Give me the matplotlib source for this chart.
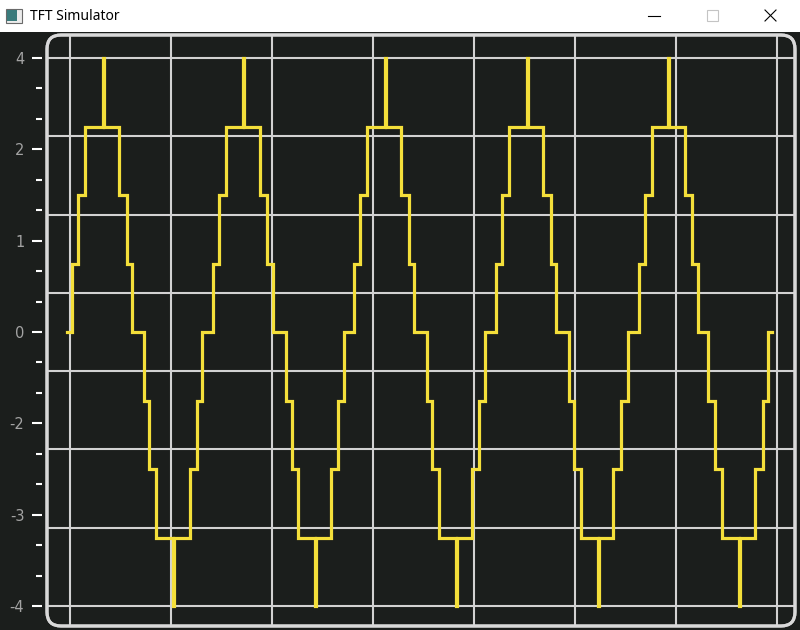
import numpy as np
import matplotlib
matplotlib.use("Agg")
import matplotlib.pyplot as plt
from matplotlib.patches import FancyBboxPatch, Rectangle

# ---- data: step waveform (sample index, level) ----
step_x = [0,
          5, 11, 18, 36, 37, 52, 60, 65, 77, 82, 89, 106, 107, 123, 130, 135,
          146, 152, 159, 176, 177, 193, 200, 206, 219, 225, 231, 248, 249, 264, 271, 277,
          287, 293, 300, 318, 319, 334, 342, 347, 360, 365, 372, 389, 390, 405, 412, 418,
          429, 435, 442, 460, 461, 476, 484, 489, 502, 507, 514, 531, 532, 546, 554, 561,
          572, 578, 585, 601, 602, 618, 625, 631, 641, 648, 655, 672, 673, 688, 696, 701,
          705]
step_y = [0,
          1, 2, 3, 4, 3, 2, 1, 0, -1, -2, -3, -4, -3, -2, -1, 0,
          1, 2, 3, 4, 3, 2, 1, 0, -1, -2, -3, -4, -3, -2, -1, 0,
          1, 2, 3, 4, 3, 2, 1, 0, -1, -2, -3, -4, -3, -2, -1, 0,
          1, 2, 3, 4, 3, 2, 1, 0, -1, -2, -3, -4, -3, -2, -1, 0,
          1, 2, 3, 4, 3, 2, 1, 0, -1, -2, -3, -4, -3, -2, -1, 0,
          0]
ytick_labels = ["4", "2", "1", "0", "-2", "-3", "-4"]
window_title = "TFT Simulator"

BG = "#1b1e1c"
GRID = "#d2d2d2"
BORDER = "#d9d9d9"
LINE = "#f4df3a"
LABEL = "#a3a3a3"

fig = plt.figure(figsize=(8, 6.3), dpi=100)
fig.patch.set_facecolor(BG)

# background / window chrome axes in pixel coordinates
bg = fig.add_axes([0, 0, 1, 1])
bg.set_xlim(0, 800)
bg.set_ylim(630, 0)
bg.axis("off")
bg.add_patch(Rectangle((0, 0), 800, 32, facecolor="white", edgecolor="none"))
# icon
bg.add_patch(Rectangle((5.5, 8.5), 16, 14, facecolor="#ececec", edgecolor="#6a6a6a", lw=0.8))
bg.add_patch(Rectangle((7, 10), 10, 11, facecolor="#3a7b7c", edgecolor="none"))
bg.text(30, 16, window_title, fontsize=10, family="Noto Sans", va="center", ha="left", color="black")
# window controls
bg.plot([648, 660], [16, 16], color="black", lw=0.8)
bg.add_patch(Rectangle((707, 10), 11, 11, facecolor="none", edgecolor="#c4c4c4", lw=0.8))
bg.plot([765, 776], [10, 21], color="black", lw=0.8)
bg.plot([765, 776], [21, 10], color="black", lw=0.8)

frame = FancyBboxPatch((47, 35), 748, 591, boxstyle="round,pad=0,rounding_size=14",
                       facecolor=BG, edgecolor=BORDER, lw=2.2, zorder=1)
bg.add_patch(frame)

# main chart axes
ax = fig.add_axes([70 / 800, 1 - 606 / 630, 707 / 800, 548 / 630])
ax.set_facecolor("none")
ax.set_xlim(3, 710)
ax.set_ylim(-4, 4)

for gx in np.linspace(3, 710, 8):
    l = ax.axvline(gx, ymin=-1, ymax=2, color=GRID, lw=1.5, zorder=1)
    l.set_clip_box(None)
    l.set_clip_path(frame)
for gy in np.linspace(-4, 4, 8):
    l = ax.axhline(gy, xmin=-1, xmax=2, color=GRID, lw=1.5, zorder=1)
    l.set_clip_box(None)
    l.set_clip_path(frame)

ln, = ax.plot(step_x, step_y, drawstyle="steps-post", color=LINE, lw=2.3, zorder=3,
              solid_joinstyle="miter")
ln.set_clip_box(None)
ln.set_clip_path(frame)

# redraw frame edge on top
edge = FancyBboxPatch((47, 35), 748, 591, boxstyle="round,pad=0,rounding_size=14",
                      facecolor="none", edgecolor=BORDER, lw=2.2, zorder=5)
bg2 = fig.add_axes([0, 0, 1, 1])
bg2.set_xlim(0, 800)
bg2.set_ylim(630, 0)
bg2.axis("off")
bg2.patch.set_visible(False)
bg2.add_patch(edge)

for s in ax.spines.values():
    s.set_visible(False)
ax.spines["left"].set_position(("outward", 20.2))
ax.set_xticks([])
ax.set_yticks(np.linspace(4, -4, 7))
ax.set_yticklabels(ytick_labels)
ax.set_yticks(np.linspace(-4, 4, 19), minor=True)
ax.tick_params(axis="y", which="major", length=7.2, width=1.5, color="white",
               labelcolor=LABEL, labelsize=10.5, pad=5.5)
ax.tick_params(axis="y", which="minor", length=4.3, width=1.5, color="white")

fig.savefig("out.png", dpi=100, facecolor=BG)
